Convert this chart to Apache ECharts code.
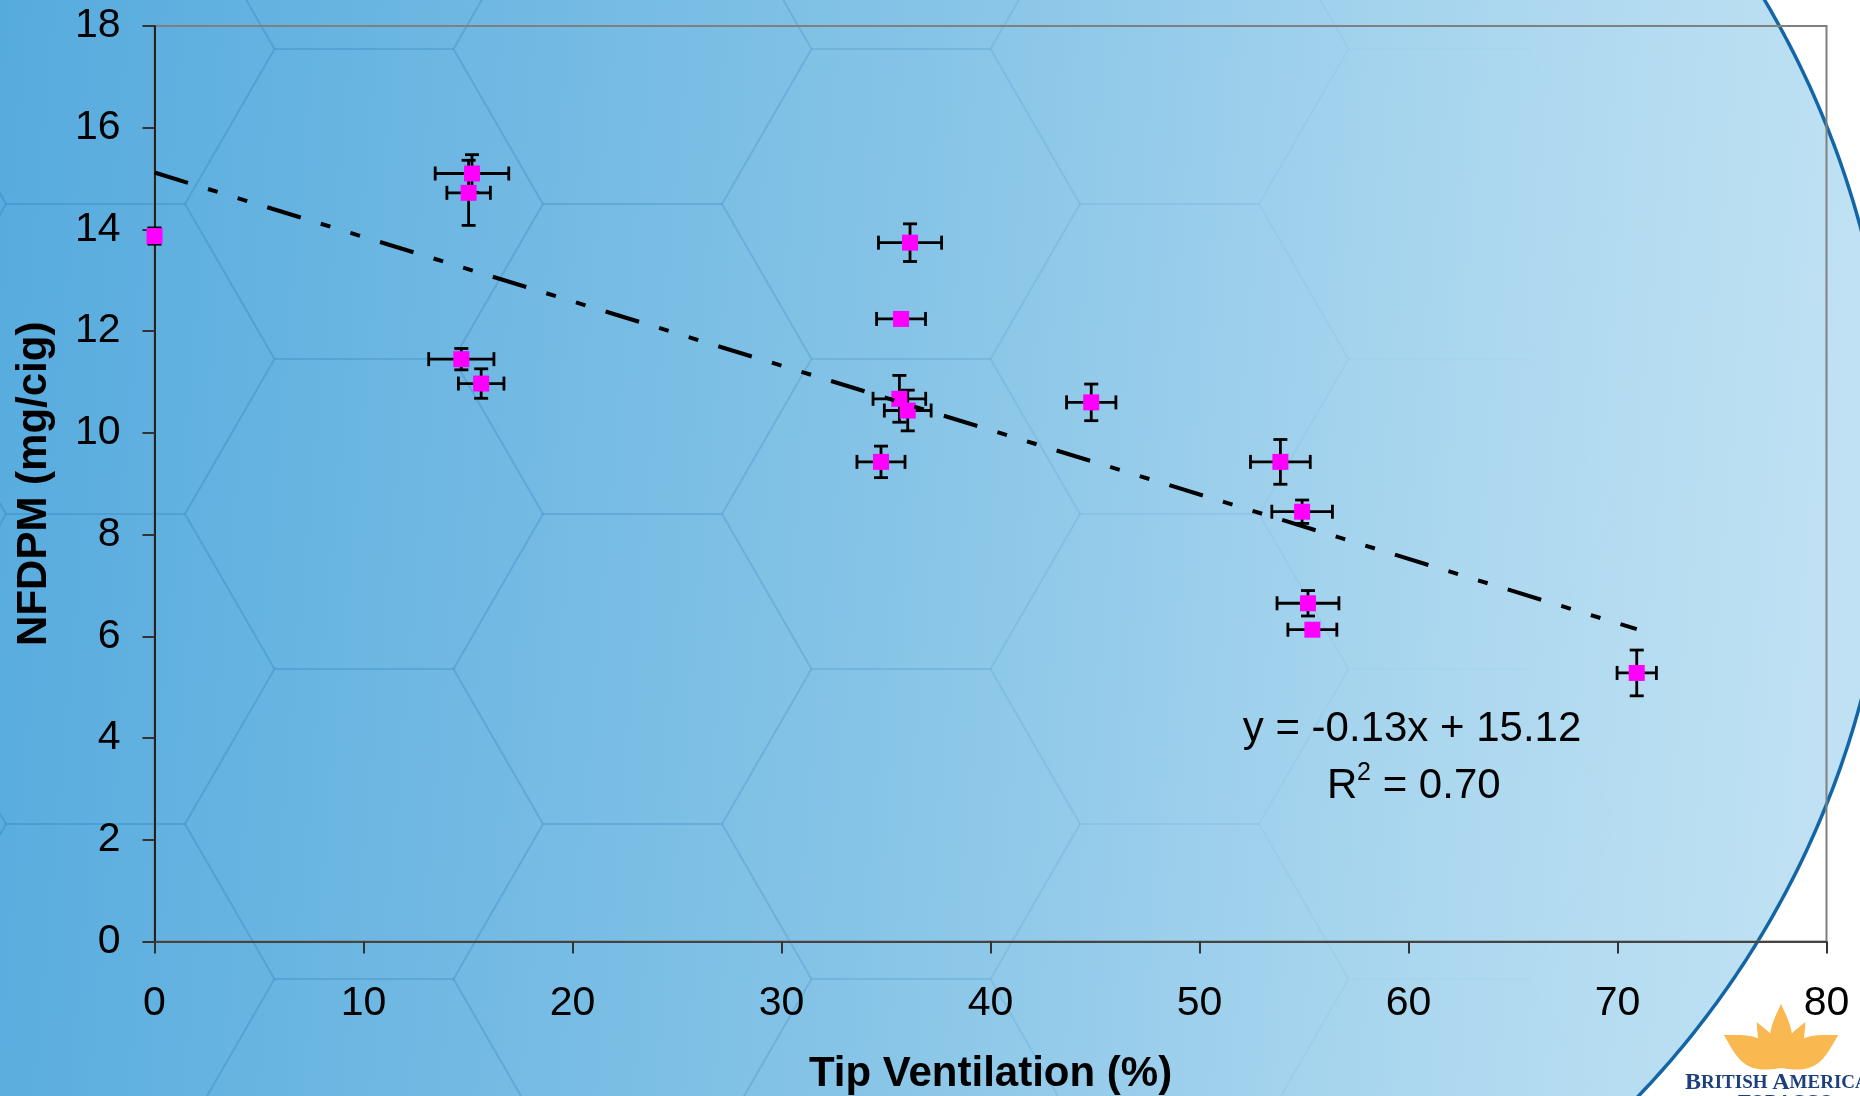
<!DOCTYPE html>
<html>
<head>
<meta charset="utf-8">
<title>NFDPM vs Tip Ventilation</title>
<script src="https://cdn.jsdelivr.net/npm/echarts@6/dist/echarts.min.js"></script>
<style>
html, body { margin: 0; padding: 0; background: #fff; }
#chart { width: 1860px; height: 1096px; }
</style>
</head>
<body>
<div id="chart"></div>
<script>
// values
var ventilation    = [0, 15.19, 15.03, 14.68, 15.63, 36.15, 35.72, 35.64, 36.04, 34.76, 44.82, 53.87, 54.91, 55.19, 55.40, 70.92];
var nfdpm          = [13.87, 15.10, 14.72, 11.45, 10.97, 13.74, 12.24, 10.67, 10.44, 9.43, 10.60, 9.43, 8.45, 6.65, 6.13, 5.28];
var ventilationErr = [0, 1.76, 1.04, 1.56, 1.09, 1.51, 1.17, 1.26, 1.12, 1.15, 1.18, 1.43, 1.45, 1.48, 1.17, 0.94];
var nfdpmErr       = [0.16, 0.37, 0.64, 0.21, 0.29, 0.37, 0, 0.46, 0.40, 0.31, 0.36, 0.44, 0.23, 0.25, 0, 0.45];
var trendX = [0, 70.92];
var trendY = [15.12, 6.14];
var xTicks = [0, 10, 20, 30, 40, 50, 60, 70, 80];
var yTicks = [0, 2, 4, 6, 8, 10, 12, 14, 16, 18];
var equationText = "y = -0.13x + 15.12";
var rSquaredText = " = 0.70";

var FONT = '"Liberation Sans", Arial, sans-serif';

var points = [];
for (var i = 0; i < ventilation.length; i++) {
    points.push([ventilation[i], nfdpm[i], ventilationErr[i], nfdpmErr[i]]);
}
var trend = [];
for (var j = 0; j < trendX.length; j++) {
    trend.push([trendX[j], trendY[j]]);
}

// slide background: gradient, faint hexagons, arc with white corner, logo
function hexagons() {
    var s = 179, h = s * Math.sqrt(3) / 2;
    var out = [];
    for (var k = -3; k < 7; k++) {
        var cx = 364 + k * 1.5 * s;
        var off = (k % 2 === 0) ? 0 : h;
        var alpha = Math.max(0, 0.1 * (1 - Math.max(0, cx - 600) / 900));
        if (alpha <= 0) continue;
        for (var m = -2; m < 5; m++) {
            var cy = 204 + off + m * 2 * h;
            var pts = [];
            for (var a = 0; a < 6; a++) {
                var ang = Math.PI / 3 * a;
                pts.push([cx + s * Math.cos(ang), cy + s * Math.sin(ang)]);
            }
            out.push({
                type: "polygon", z: -9, silent: true,
                shape: { points: pts },
                style: { fill: "none", stroke: "rgba(20,95,160," + alpha + ")", lineWidth: 2 }
            });
        }
    }
    return out;
}

function arcPoints() {
    var cx = 980, cy = 465, r = 912;
    var a1 = Math.asin((-15 - cy) / r), a2 = Math.asin((1110 - cy) / r);
    var pts = [];
    for (var t = 0; t <= 200; t++) {
        var a = a1 + (a2 - a1) * t / 200;
        pts.push([cx + r * Math.cos(a), cy + r * Math.sin(a)]);
    }
    return pts;
}

function leaf(bx, by, len, wid, deg) {
    var rad = deg * Math.PI / 180, pts = [];
    for (var t = 0; t <= 40; t++) {
        var u = t / 40;
        pts.push([wid / 2 * Math.sin(Math.PI * u) * (1 - 0.3 * u), -len * u]);
    }
    for (var t2 = 40; t2 >= 0; t2--) {
        var u2 = t2 / 40;
        pts.push([-wid / 2 * Math.sin(Math.PI * u2) * (1 - 0.3 * u2), -len * u2]);
    }
    return pts.map(function (p) {
        return [bx + p[0] * Math.cos(rad) - p[1] * Math.sin(rad), by + p[0] * Math.sin(rad) + p[1] * Math.cos(rad)];
    });
}

var arc = arcPoints();
var whiteArea = arc.concat([[1900, 1110], [1900, -15]]);
var LEAF = "#f9b850";

var graphics = [
    {
        type: "rect", z: -10, silent: true,
        shape: { x: 0, y: 0, width: 1860, height: 1096 },
        style: {
            fill: {
                type: "linear", x: 0, y: 0, x2: 1, y2: 0.15,
                colorStops: [
                    { offset: 0, color: "#56abde" },
                    { offset: 0.5, color: "#86c4e7" },
                    { offset: 0.8, color: "#abd7ef" },
                    { offset: 1, color: "#bfe1f3" }
                ]
            }
        }
    }
].concat(hexagons()).concat([
    { type: "polygon", z: -8, silent: true, shape: { points: whiteArea }, style: { fill: "#fff" } },
    { type: "polyline", z: -7, silent: true, shape: { points: arc }, style: { fill: "none", stroke: "#1266a6", lineWidth: 3.5 } },
    { type: "polygon", z: -6, silent: true, shape: { points: leaf(1781, 1068, 64, 26, 0) }, style: { fill: LEAF } },
    { type: "polygon", z: -6, silent: true, shape: { points: leaf(1781, 1068, 52, 20, -28) }, style: { fill: LEAF } },
    { type: "polygon", z: -6, silent: true, shape: { points: leaf(1781, 1068, 52, 20, 28) }, style: { fill: LEAF } },
    { type: "polygon", z: -6, silent: true, shape: { points: leaf(1781, 1068, 66, 34, -60) }, style: { fill: LEAF } },
    { type: "polygon", z: -6, silent: true, shape: { points: leaf(1781, 1068, 66, 34, 60) }, style: { fill: LEAF } },
    {
        type: "text", z: -5, silent: true, x: 1685, y: 1095,
        style: {
            text: "{b|B}{s|RITISH }{b|A}{s|MERICAN}",
            verticalAlign: "bottom",
            rich: {
                b: { fontFamily: '"Liberation Serif", serif', fontWeight: "bold", fontSize: 24, fill: "#1d3f7c" },
                s: { fontFamily: '"Liberation Serif", serif', fontWeight: "bold", fontSize: 19, fill: "#1d3f7c" }
            }
        }
    },
    {
        type: "text", z: -5, silent: true, x: 1738, y: 1094,
        style: { text: "TOBACCO", verticalAlign: "top", font: 'bold 19px "Liberation Serif", serif', fill: "#1d3f7c" }
    },
    // trendline label
    {
        type: "text", z: 10, x: 1412, y: 729,
        style: { text: equationText, align: "center", verticalAlign: "middle", font: "42px " + FONT, fill: "#000" }
    },
    {
        type: "text", z: 10, x: 1327, y: 786,
        style: { text: "R", align: "left", verticalAlign: "middle", font: "42px " + FONT, fill: "#000" }
    },
    {
        type: "text", z: 10, x: 1357, y: 773,
        style: { text: "2", align: "left", verticalAlign: "middle", font: "25px " + FONT, fill: "#000" }
    },
    {
        type: "text", z: 10, x: 1371, y: 786,
        style: { text: rSquaredText, align: "left", verticalAlign: "middle", font: "42px " + FONT, fill: "#000" }
    }
]);

function errorBars(params, api) {
    var x = api.value(0), y = api.value(1), ex = api.value(2), ey = api.value(3);
    var cap = 7;
    var style = { stroke: "#000", lineWidth: 2.8 };
    var kids = [];
    if (ex > 0) {
        var l = api.coord([x - ex, y]), r = api.coord([x + ex, y]);
        kids.push({ type: "line", shape: { x1: l[0], y1: l[1], x2: r[0], y2: r[1] }, style: style });
        kids.push({ type: "line", shape: { x1: l[0], y1: l[1] - cap, x2: l[0], y2: l[1] + cap }, style: style });
        kids.push({ type: "line", shape: { x1: r[0], y1: r[1] - cap, x2: r[0], y2: r[1] + cap }, style: style });
    }
    if (ey > 0) {
        var t = api.coord([x, y + ey]), b = api.coord([x, y - ey]);
        kids.push({ type: "line", shape: { x1: t[0], y1: t[1], x2: b[0], y2: b[1] }, style: style });
        kids.push({ type: "line", shape: { x1: t[0] - cap, y1: t[1], x2: t[0] + cap, y2: t[1] }, style: style });
        kids.push({ type: "line", shape: { x1: b[0] - cap, y1: b[1], x2: b[0] + cap, y2: b[1] }, style: style });
    }
    return { type: "group", children: kids };
}

var chart = echarts.init(document.getElementById("chart"));
chart.setOption({
    animation: false,
    backgroundColor: "#fff",
    textStyle: { fontFamily: FONT },
    graphic: { elements: graphics },
    grid: {
        left: 154.5, right: 33.5, top: 26, bottom: 154.5,
        outerBoundsMode: "none",
        show: true, borderColor: "#808080", borderWidth: 2, backgroundColor: "transparent"
    },
    xAxis: {
        type: "value",
        min: xTicks[0], max: xTicks[xTicks.length - 1], interval: xTicks[1] - xTicks[0],
        name: "Tip Ventilation (%)", nameLocation: "middle", nameGap: 112,
        nameTextStyle: { fontFamily: FONT, fontWeight: "bold", fontSize: 42, color: "#000" },
        axisLine: { show: true, lineStyle: { color: "#444", width: 2 } },
        axisTick: { show: true, length: 12, lineStyle: { color: "#333", width: 2 } },
        axisLabel: { fontFamily: FONT, fontSize: 41, color: "#000", margin: 42 },
        splitLine: { show: false }
    },
    yAxis: {
        type: "value",
        min: yTicks[0], max: yTicks[yTicks.length - 1], interval: yTicks[1] - yTicks[0],
        name: "NFDPM (mg/cig)", nameLocation: "middle", nameGap: 99,
        nameTextStyle: { fontFamily: FONT, fontWeight: "bold", fontSize: 42, color: "#000" },
        axisLine: { show: true, lineStyle: { color: "#222", width: 2 } },
        axisTick: { show: true, length: 12, lineStyle: { color: "#333", width: 2 } },
        axisLabel: { fontFamily: FONT, fontSize: 41, color: "#000", margin: 34 },
        splitLine: { show: false }
    },
    series: [
        {
            type: "custom", z: 2, silent: true,
            renderItem: errorBars,
            data: points,
            encode: { x: 0, y: 1 }
        },
        {
            type: "scatter", z: 3, silent: true,
            symbol: "rect", symbolSize: 16,
            itemStyle: { color: "#ff00ff", opacity: 1 },
            data: points.map(function (p) { return [p[0], p[1]]; })
        },
        {
            type: "line", z: 4, silent: true,
            data: trend, symbol: "none",
            lineStyle: { color: "#000", width: 4, type: [35, 21, 10, 21, 10, 21], cap: "butt" }
        }
    ]
});
</script>
</body>
</html>
